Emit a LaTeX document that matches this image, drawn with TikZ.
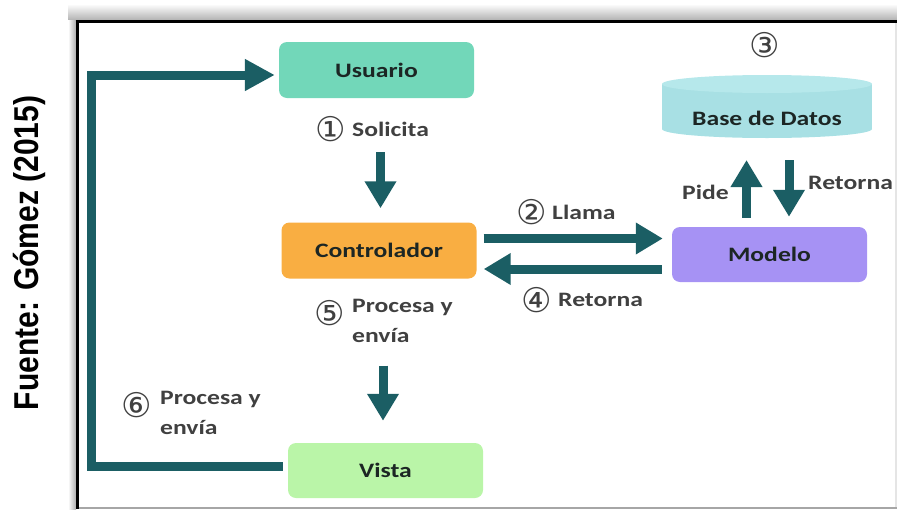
\documentclass[tikz,border=0pt]{standalone}
\usepackage{fontspec}
\usepackage{graphicx}
\usetikzlibrary{arrows.meta}
\newfontfamily\diagfont{Carlito}[FakeStretch=1.25]
\newfontfamily\numfont{DejaVu Sans}
\newfontfamily\srcfont{Liberation Sans}
\definecolor{arrowc}{HTML}{1B5E64}
\definecolor{usrc}{HTML}{72D7B9}
\definecolor{ctlc}{HTML}{F9AE42}
\definecolor{modc}{HTML}{A692F4}
\definecolor{visc}{HTML}{BAF5A8}
\definecolor{dbc}{HTML}{A8E0E4}
\definecolor{dbtop}{HTML}{B6E8EB}
\definecolor{lblc}{HTML}{404040}
\definecolor{boxtxt}{HTML}{1C2624}
\tikzset{
  box/.style={rounded corners=8pt, minimum width=195pt, minimum height=56pt,
    inner sep=0pt, text=boxtxt, font=\diagfont\bfseries\fontsize{20.5}{24}\selectfont},
  lbl/.style={inner sep=0pt, text=lblc, font=\diagfont\bfseries\fontsize{20.5}{30}\selectfont},
  num/.style={inner sep=0pt, text=lblc, font=\numfont\fontsize{34}{36}\selectfont},
  blk/.style={draw=arrowc, line width=9pt, -{Triangle[length=27pt,width=30pt]}},
}
\begin{document}
\begin{tikzpicture}[x=1pt, y=-1pt]
\useasboundingbox (0,0) rectangle (897,509);
% frame shading and border
\shade[top color=white, bottom color=black!30] (68,4) rectangle (897,20);
\shade[left color=white, right color=black!32] (68,20) rectangle (76,509);
\draw[black, line width=3.5pt] (75.5,21.5) -- (897,21.5);
\draw[black, line width=3.5pt] (77.5,20) -- (77.5,509);
\draw[black!35, line width=2pt] (79,508) -- (897,508);
\draw[black!10, line width=2pt] (896,23) -- (896,507);

% source note
\node[rotate=90, inner sep=0pt] (src) at (29,253)
  {\scalebox{1}[1.15]{\srcfont\bfseries\fontsize{30}{34}\selectfont Fuente: Gómez (2015)}};

% boxes
\node[box, fill=usrc] (usr) at (376.5,70) {Usuario};
\node[box, fill=ctlc] (ctl) at (379,250.5) {Controlador};
\node[box, fill=modc, minimum height=55pt] (mod) at (769.5,254.5) {Modelo};
\node[box, fill=visc, minimum height=55pt] (vis) at (385.5,470.5) {Vista};

% database cylinder
\fill[dbc] (662,84) rectangle (872,129);
\fill[dbc] (767,129) ellipse [x radius=105, y radius=9];
\fill[dbtop] (767,84) ellipse [x radius=105, y radius=9];
\node[box, minimum width=0pt, minimum height=0pt] (db) at (767,118) {Base de Datos};

% labels
\node[lbl, anchor=west] (l1) at (352,129) {Solicita};
\node[num, anchor=east] (n1) at ([xshift=-6pt]l1.west) {①};
\node[lbl, anchor=west] (l2) at (552,212) {Llama};
\node[num, anchor=east] (n2) at ([xshift=-5pt]l2.west) {②};
\node[num] (n3) at (765,45) {③};
\node[lbl, anchor=west] (l4) at (558,300) {Retorna};
\node[num, anchor=east] (n4) at ([xshift=-6pt]l4.west) {④};
\node[lbl, anchor=east] (pide) at (729,192) {Pide};
\node[lbl, anchor=west] (ret) at (808,183) {Retorna};
\node[lbl, anchor=north west, align=left] (l5) at (352,299) {Procesa y\\envía};
\node[num, anchor=east] (n5) at ([xshift=-7pt]l5.west |- 0,313) {⑤};
\node[lbl, anchor=north west, align=left] (l6) at (160,391) {Procesa y\\envía};
\node[num, anchor=east] (n6) at ([xshift=-8pt]l6.west |- 0,405) {⑥};

% connectors
\draw[blk] ([xshift=4pt,yshift=-54pt]usr.south) -- ([xshift=4pt,yshift=14pt]usr.south |- ctl.north);
\draw[blk] ([xshift=7pt]ctl.east |- 0,238.5) -- ([xshift=-9pt]mod.west |- 0,238.5);
\draw[blk] ([xshift=-10pt]mod.west |- 0,269) -- ([xshift=7pt]ctl.east |- 0,269);
\draw[blk] ([xshift=-23pt,yshift=9pt]mod.north) -- ([xshift=-23pt]mod.north |- 0,160);
\draw[blk] ([xshift=19.5pt]mod.north |- 0,160) -- ([xshift=19.5pt,yshift=10pt]mod.north);
\draw[blk] ([xshift=4pt,yshift=-87pt]ctl.south) -- ([xshift=4pt,yshift=22pt]ctl.south |- vis.north);
\draw[draw=arrowc, line width=9pt, -{Triangle[length=30pt,width=30pt]}]
  ([xshift=-5pt]vis.west |- 0,466.5) -| (91,75) -- ([xshift=-4pt]usr.west |- 0,75);
\end{tikzpicture}
\end{document}
